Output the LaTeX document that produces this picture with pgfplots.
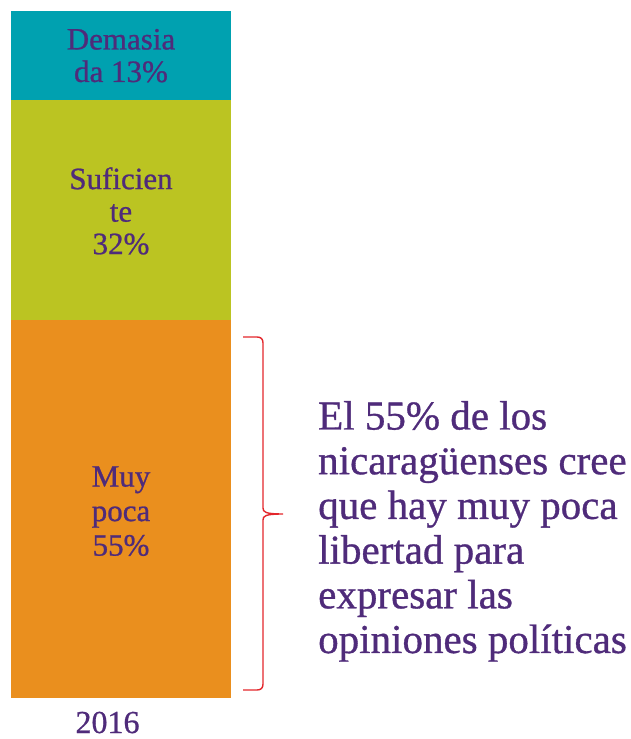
\documentclass[border=0pt]{standalone}
\usepackage{fontspec}
\setmainfont{Liberation Serif}[BoldFont={Liberation Serif}, BoldFeatures={FakeBold=0.8}]
\usepackage{pgfplots}
\pgfplotsset{compat=1.18}
\definecolor{cteal}{HTML}{00A1B0}
\definecolor{cgreen}{HTML}{BBC422}
\definecolor{corange}{HTML}{EA8F1E}
\definecolor{cpurple}{HTML}{4F2B7A}
\definecolor{cred}{HTML}{E3262B}
\begin{document}
\begin{tikzpicture}[x=1pt,y=1pt]
\path[use as bounding box] (0,0) rectangle (631,739);
\begin{axis}[
  at={(11pt,41pt)}, anchor=south west,
  scale only axis, width=220pt, height=687pt,
  ybar stacked, bar width=220pt,
  xmin=-0.5, xmax=0.5, ymin=0, ymax=100,
  xtick={0}, xticklabels={2016}, ytick=\empty,
  axis line style={draw=none}, major tick length=0pt,
  xticklabel style={font=\fontsize{32}{32}\selectfont\bfseries, text=cpurple, anchor=base, inner sep=0pt, yshift=-35pt, xshift=-13.5pt},
  clip=false,
]
\addplot[fill=corange, draw=none] coordinates {(0,55)};
\addplot[fill=cgreen, draw=none] coordinates {(0,32)};
\addplot[fill=cteal, draw=none] coordinates {(0,13)};
\coordinate (dem) at (axis cs:0,93.5);
\coordinate (suf) at (axis cs:0,70.9);
\coordinate (muy) at (axis cs:0,27.2);
\end{axis}
\node[text=cpurple, align=center, font=\fontsize{31}{32.5}\selectfont\bfseries] at (dem) {Demasia\\da 13\%};
\node[text=cpurple, align=center, font=\fontsize{31}{32.5}\selectfont\bfseries] at (suf) {Suficien\\te\\32\%};
\node[text=cpurple, align=center, font=\fontsize{31}{34.5}\selectfont\bfseries] at (muy) {Muy\\poca\\55\%};
\draw[cred, line width=1.4pt]
  (243,402) -- (257,402) .. controls (261,402) and (263,400) .. (263,396)
  -- (263,231) .. controls (263,227) and (265,225) .. (283,225)
  .. controls (265,225) and (263,223) .. (263,219)
  -- (263,55) .. controls (263,51) and (261,49) .. (257,49) -- (243,49);
\node[text=cpurple, anchor=base west, align=left, inner sep=0pt,
  font=\fontsize{41}{44.7}\selectfont\bfseries] at (318,86) {El 55\% de los\\nicaragüenses cree\\que hay muy poca\\libertad para\\expresar las\\opiniones políticas};
\end{tikzpicture}
\end{document}
